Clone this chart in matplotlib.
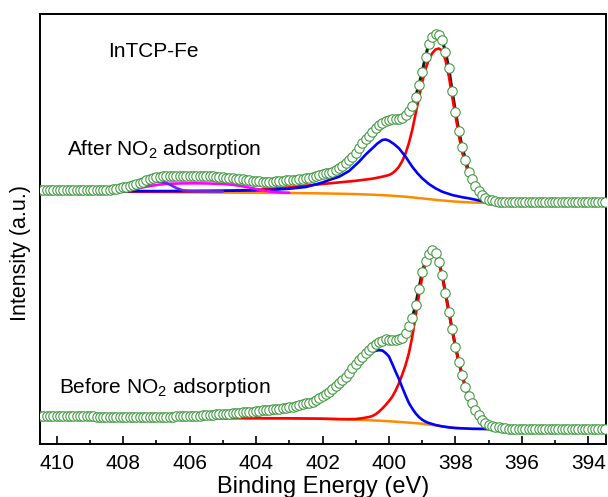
import numpy as np
import matplotlib
matplotlib.use('Agg')
import matplotlib.pyplot as plt
from matplotlib.ticker import MultipleLocator

plt.rcParams['font.family'] = ['Liberation Sans', 'DejaVu Sans']
plt.rcParams['mathtext.fontset'] = 'custom'
plt.rcParams['mathtext.rm'] = 'Liberation Sans'
plt.rcParams['mathtext.it'] = 'Liberation Sans:italic'

# measured N 1s spectra, one point every 0.1 eV starting at 410.5 eV
E_FIRST = 410.5
E_STEP = 0.1

after_counts = [
  254.0, 254.0, 254.0, 254.0, 254.0, 254.0, 254.0, 254.0, 254.0, 254.0,
  254.0, 254.0, 254.0, 254.0, 254.0, 254.0, 254.0, 254.0, 254.0, 254.0,
  254.0, 254.0, 254.7, 255.3, 256.0, 256.7, 257.3, 258.0, 259.0, 260.0,
  261.0, 262.3, 263.7, 265.0, 266.0, 267.0, 267.4, 267.8, 268.0, 268.0,
  268.0, 268.0, 268.0, 268.0, 268.0, 268.0, 268.0, 268.0, 268.0, 268.0,
  268.0, 267.8, 267.6, 267.4, 267.1, 266.8, 266.5, 266.2, 265.8, 265.4,
  265.0, 264.6, 264.2, 263.8, 263.4, 263.0, 262.7, 262.5, 262.4, 262.4,
  262.5, 262.7, 263.0, 263.3, 263.6, 263.9, 264.1, 264.3, 264.6, 265.1,
  265.7, 266.5, 267.3, 268.0, 269.0, 269.8, 270.7, 271.5, 272.3, 274.0,
  275.7, 278.0, 280.7, 284.0, 287.3, 291.5, 296.5, 300.7, 304.7, 308.5,
  312.3, 315.8, 319.0, 321.3, 323.3, 324.3, 324.7, 324.7, 325.0, 325.7,
  329.1, 333.2, 338.0, 347.3, 359.0, 372.3, 387.5, 400.1, 407.0, 410.3,
  409.3, 404.0, 392.3, 375.7, 353.5, 332.5, 313.5, 297.0, 284.5, 272.4,
  264.7, 257.8, 252.7, 249.0, 246.1, 244.5, 243.8, 243.2, 242.5, 242.0,
  242.0, 242.0, 242.0, 242.0, 242.0, 242.0, 242.0, 242.0, 242.0, 242.0,
  242.0, 242.0, 242.0, 242.0, 242.0, 242.0, 242.0, 242.0, 242.0, 242.0,
  242.0, 242.0, 242.0, 242.0, 242.0, 242.0, 242.0, 242.0, 242.0, 242.0,
  242.0,
]

before_counts = [
  28.3, 28.3, 28.2, 28.2, 28.1, 28.1, 28.0, 28.0, 27.9, 27.9,
  27.8, 27.8, 27.8, 27.7, 27.7, 27.6, 27.6, 27.5, 27.5, 27.5,
  27.4, 27.4, 27.4, 27.3, 27.3, 27.3, 27.3, 27.3, 27.3, 27.4,
  27.4, 27.4, 27.4, 27.5, 27.5, 27.5, 27.5, 27.5, 27.5, 27.5,
  27.5, 27.6, 27.8, 27.9, 28.0, 28.1, 28.2, 28.4, 28.5, 28.7,
  29.0, 29.2, 29.4, 29.6, 29.8, 30.1, 30.3, 30.5, 30.8, 31.0,
  31.3, 31.6, 31.8, 32.1, 32.4, 32.8, 33.2, 33.6, 34.0, 34.3,
  34.7, 35.1, 35.5, 36.0, 36.4, 36.9, 37.3, 38.1, 39.0, 39.8,
  40.7, 41.5, 42.5, 44.0, 45.7, 47.9, 50.1, 52.3, 55.1, 57.9,
  60.7, 64.0, 67.3, 71.5, 75.7, 80.0, 84.0, 87.3, 90.7, 94.0,
  97.3, 99.8, 102.3, 103.5, 104.7, 104.3, 104.0, 104.4, 104.7, 106.4,
  110.7, 117.9, 126.1, 138.9, 155.1, 172.1, 183.0, 189.9, 194.0, 191.3,
  182.3, 169.0, 150.7, 132.3, 114.7, 97.3, 82.3, 69.0, 57.0, 48.0,
  40.7, 34.0, 29.0, 24.5, 21.5, 19.5, 18.3, 17.3, 16.7, 16.3,
  15.9, 15.5, 15.3, 15.1, 15.0, 15.0, 15.0, 15.0, 15.0, 15.0,
  15.0, 15.0, 15.0, 15.0, 15.0, 15.0, 15.0, 15.0, 15.0, 15.0,
  15.0, 15.0, 15.0, 15.0, 15.0, 15.0, 15.0, 15.0, 15.0, 15.0,
  15.0,
]

# fitted components (binding energy, intensity)
after_bg = [(410.0, 252.8), (409.0, 252.5), (408.0, 252.2), (407.0, 251.9), (406.0, 251.6),
            (405.0, 251.4), (404.0, 251.2), (403.0, 251.0), (402.0, 250.6), (401.5, 250.3),
            (401.0, 249.9), (400.5, 249.3), (400.0, 248.5), (399.5, 247.3), (399.0, 245.6),
            (398.5, 243.8), (398.0, 242.4), (397.5, 241.5), (397.0, 241.0), (396.0, 240.8)]

after_red = [(410.0, 253.0), (409.0, 252.7), (408.0, 252.5), (407.0, 252.5), (406.0, 252.7),
             (405.0, 253.2), (404.0, 254.2), (403.5, 255.2), (403.0, 256.6), (402.5, 258.3),
             (402.0, 260.0), (401.5, 261.6), (401.0, 263.2), (400.5, 265.3), (400.2, 267.3),
             (400.0, 269.0), (399.9, 270.7), (399.8, 273.5), (399.7, 277.3), (399.6, 283.0),
             (399.5, 290.7), (399.4, 301.0), (399.3, 314.0), (399.2, 330.0), (399.1, 346.0),
             (399.0, 362.0), (398.9, 375.0), (398.8, 384.5), (398.7, 390.7), (398.6, 394.5),
             (398.5, 395.5), (398.4, 393.5), (398.3, 384.0), (398.2, 368.0), (398.1, 347.5),
             (398.0, 329.0), (397.9, 309.0), (397.8, 292.0), (397.7, 281.0), (397.6, 268.5),
             (397.5, 261.0), (397.4, 254.3), (397.3, 249.7), (397.2, 246.5), (397.1, 244.1),
             (397.0, 242.8), (396.8, 241.8), (396.5, 241.2), (396.0, 241.0)]

after_blue = [(410.0, 253.2), (409.0, 253.0), (408.0, 252.9), (407.0, 252.9), (406.0, 253.0),
              (405.0, 253.2), (404.0, 253.6), (403.5, 254.2), (403.0, 255.3), (402.5, 257.0),
              (402.3, 258.8), (402.0, 261.5), (401.8, 264.0), (401.5, 267.3), (401.2, 273.0),
              (400.9, 282.3), (400.7, 289.5), (400.5, 295.7), (400.35, 300.5), (400.2, 304.0),
              (400.1, 304.5), (400.0, 303.3), (399.85, 300.0), (399.7, 295.7), (399.5, 287.3),
              (399.3, 277.3), (399.15, 271.0), (399.0, 265.7), (398.8, 260.0), (398.6, 255.7),
              (398.4, 252.3), (398.1, 249.0), (397.8, 246.8), (397.6, 245.7), (397.4, 244.3),
              (397.2, 242.8), (397.0, 241.5), (396.5, 241.0), (396.0, 240.8)]

after_magenta = [(408.3, 252.3), (408.0, 253.0), (407.8, 254.0), (407.5, 256.0), (407.2, 258.0),
                 (406.9, 259.5), (406.6, 260.3), (406.2, 260.6), (405.8, 260.7), (405.4, 260.5),
                 (405.0, 260.0), (404.7, 259.2), (404.4, 257.7), (404.1, 255.8), (403.9, 254.3),
                 (403.6, 252.5), (403.3, 251.6), (403.0, 251.2)]

after_violet = [(408.5, 252.4), (408.0, 252.8), (407.8, 253.6), (407.6, 255.0), (407.4, 257.6),
                (407.2, 260.5), (407.05, 262.3), (406.9, 262.7), (406.75, 261.6), (406.6, 259.5),
                (406.4, 256.0), (406.2, 253.6), (406.0, 253.0), (405.7, 252.8), (405.3, 252.6),
                (405.0, 252.5)]

before_bg = [(410.0, 26.5), (409.0, 26.4), (408.0, 26.3), (407.0, 26.1), (406.0, 26.0),
             (405.0, 25.8), (404.0, 25.7), (403.0, 25.6), (402.0, 25.2), (401.5, 24.8),
             (401.0, 24.3), (400.5, 23.6), (400.0, 22.8), (399.5, 21.6), (399.0, 20.3),
             (398.5, 18.2), (398.0, 16.0), (397.5, 15.2), (397.0, 15.0), (396.0, 14.9)]

before_red = [(410.0, 26.6), (406.0, 26.1), (404.0, 25.8), (403.0, 25.7), (402.0, 25.3),
              (401.5, 24.9), (401.2, 24.8), (401.0, 25.0), (400.8, 25.8), (400.6, 27.0),
              (400.5, 28.0), (400.4, 29.8), (400.3, 32.3), (400.2, 35.5), (400.1, 39.0),
              (400.0, 43.0), (399.9, 47.3), (399.8, 53.5), (399.7, 60.7), (399.6, 69.5),
              (399.5, 79.0), (399.4, 91.0), (399.3, 107.0), (399.2, 128.0), (399.1, 148.0),
              (399.0, 167.0), (398.9, 180.5), (398.8, 188.2), (398.7, 192.5), (398.6, 191.0),
              (398.5, 182.0), (398.4, 168.8), (398.3, 150.5), (398.2, 132.2), (398.1, 114.6),
              (398.0, 97.3), (397.9, 82.3), (397.8, 69.0), (397.7, 57.0), (397.6, 48.0),
              (397.5, 40.7), (397.4, 34.0), (397.3, 29.0), (397.2, 24.5), (397.1, 21.5),
              (397.0, 19.5), (396.9, 18.2), (396.8, 17.3), (396.6, 16.1), (396.4, 15.5),
              (396.0, 15.0)]

before_blue = [(410.0, 26.8), (408.0, 26.8), (406.0, 28.0), (405.0, 30.0), (404.0, 32.6),
               (403.5, 34.4), (403.0, 36.5), (402.5, 40.1), (402.2, 43.2), (402.0, 47.0),
               (401.8, 51.2), (401.6, 56.6), (401.4, 62.4), (401.2, 69.5), (401.0, 77.5),
               (400.8, 84.5), (400.6, 90.2), (400.4, 93.3), (400.3, 93.8), (400.2, 93.5),
               (400.1, 91.0), (400.0, 87.5), (399.9, 80.0), (399.8, 72.3), (399.7, 65.0),
               (399.6, 56.5), (399.5, 48.5), (399.4, 41.0), (399.3, 35.5), (399.2, 30.7),
               (399.1, 27.0), (399.0, 24.3), (398.9, 22.3), (398.8, 21.0), (398.7, 20.0),
               (398.6, 19.0), (398.5, 18.3), (398.4, 17.6), (398.2, 16.6), (398.0, 16.0),
               (397.5, 15.2), (397.0, 15.0)]

labels = ['InTCP-Fe', 'After NO$_2$ adsorption', 'Before NO$_2$ adsorption']

GREEN = '#3a963a'
ENVELOPE = '#1a1a1a'

fig = plt.figure(figsize=(6.08, 4.97), dpi=100)
ax = fig.add_axes([40 / 608, 53 / 497, 566 / 608, 430 / 497])


def component(pts, color, lw=1.9, z=3):
  e, i = zip(*pts)
  ax.plot(e, i, color=color, lw=lw, zorder=z, solid_capstyle='round')


for counts in (after_counts, before_counts):
  energy = np.round(E_FIRST - E_STEP * np.arange(len(counts)), 1)
  # fit envelope runs through the data, markers go on top
  ax.plot(energy, counts, color=ENVELOPE, lw=2.2, zorder=1)
  ax.plot(energy, counts, 'o', ms=6.8, mfc='white', mec=GREEN, mew=0.75, zorder=6)

component(after_bg, '#ff8a00', lw=1.8, z=2)
component(after_red, '#ff0000')
component(after_blue, '#0000ff', z=4)
component(after_magenta, '#ff00ff', z=4)
component(after_violet, '#6a28e0', z=4)

component(before_bg, '#ff8a00', lw=1.8, z=2)
component(before_red, '#ff0000')
component(before_blue, '#0000ff', z=4)

ax.set_xlim(410.5, 393.47)
ax.set_ylim(0, 430)
ax.set_xticks(np.arange(394, 411, 2))
ax.xaxis.set_minor_locator(MultipleLocator(1))
ax.set_yticks([])
ax.tick_params(axis='x', which='major', direction='in', length=5.5, width=1.2,
               labelsize=15, pad=7)
ax.tick_params(axis='x', which='minor', direction='in', length=3, width=1.2)
for s in ax.spines.values():
  s.set_linewidth(1.4)

ax.set_xlabel('Binding Energy (eV)', fontsize=17, labelpad=2)
ax.set_ylabel('Intensity (a.u.)', fontsize=15.5, va='center')
ax.yaxis.set_label_coords(-0.035, 0.444)

ax.text(0.120, 0.900, labels[0], transform=ax.transAxes, fontsize=15, va='baseline')
ax.text(0.048, 0.672, labels[1], transform=ax.transAxes, fontsize=15, va='baseline')
ax.text(0.034, 0.118, labels[2], transform=ax.transAxes, fontsize=15, va='baseline')

fig.savefig('out.png', dpi=100)
